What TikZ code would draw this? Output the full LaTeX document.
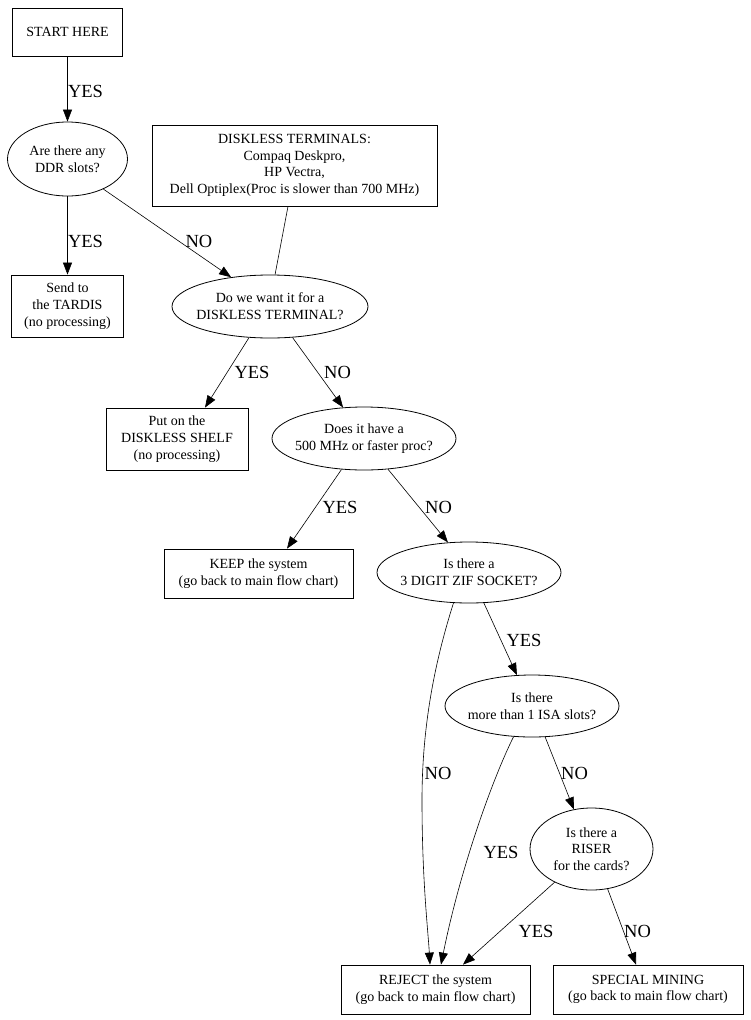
\documentclass[tikz,border=0pt]{standalone}
\usepackage{fontspec}
\setmainfont{Liberation Serif}
\usetikzlibrary{arrows.meta,shapes.geometric}
\newcommand{\mynodefont}{\fontsize{14}{16.7}\selectfont}
\newcommand{\mylabfont}{\fontsize{18.5}{20}\selectfont}
\begin{document}
\begin{tikzpicture}[x=1pt,y=-1pt,
  box/.style={draw,line width=0.8pt,rectangle,inner sep=0pt,align=center,font=\mynodefont},
  oval/.style={draw,line width=0.8pt,ellipse,inner sep=0pt},
  ovtext/.style={align=center,font=\mynodefont,inner sep=0pt},
  edge/.style={line width=0.6pt,-{Triangle[length=12pt,width=9pt]}},
  plain/.style={line width=0.6pt},
  lab/.style={font=\mylabfont,inner sep=0pt},
]
\fill[white] (0,0) rectangle (750,1020);
\useasboundingbox (0,0) rectangle (750,1020);

% nodes
\node[box, minimum width=110pt, minimum height=48pt] (start) at (67.5,32) {START HERE};
\node[oval, minimum width=120pt, minimum height=74pt,
  label={[ovtext]center:Are there any\\DDR slots?}] (ddr) at (67.5,159) {};
\node[box, minimum width=112pt, minimum height=62pt] (tardis) at (67.5,306) {Send to\\the TARDIS\\(no processing)};
\node[box, minimum width=285pt, minimum height=81pt] (dt) at (294.5,165.5) {DISKLESS TERMINALS:\\Compaq Deskpro,\\HP Vectra,\\Dell Optiplex(Proc is slower than 700 MHz)};
\node[oval, minimum width=196pt, minimum height=63pt,
  label={[ovtext]center:Do we want it for a\\DISKLESS TERMINAL?}] (dw) at (270,306.5) {};
\node[box, minimum width=142pt, minimum height=62pt] (shelf) at (177,439) {Put on the\\DISKLESS SHELF\\(no processing)};
\node[oval, minimum width=184pt, minimum height=63pt,
  label={[ovtext]center:Does it have a\\500 MHz or faster proc?}] (fh) at (364,438.5) {};
\node[box, minimum width=189pt, minimum height=49pt] (keep) at (258.5,573.5) {KEEP the system\\(go back to main flow chart)};
\node[oval, minimum width=184pt, minimum height=61pt,
  label={[ovtext]center:Is there a\\3 DIGIT ZIF SOCKET?}] (zif) at (469,572.5) {};
\node[oval, minimum width=174pt, minimum height=62pt,
  label={[ovtext]center:Is there\\more than 1 ISA slots?}] (isa) at (532,706) {};
\node[oval, minimum width=123pt, minimum height=82pt,
  label={[ovtext]center:Is there a\\RISER\\for the cards?}] (riser) at (591.5,849) {};
\node[box, minimum width=189pt, minimum height=49pt] (reject) at (435.5,989.5) {REJECT the system\\(go back to main flow chart)};
\node[box, minimum width=190pt, minimum height=49pt] (special) at (648,989.5) {SPECIAL MINING\\(go back to main flow chart)};

% edges
\draw[edge] (start.south) -- (ddr.north);
\draw[edge] (ddr.south) -- (tardis.north);
\draw[edge] (ddr.-40) -- (dw.143.6);
\draw[plain] ([xshift=-6.5pt]dt.south) -- (dw.81);
\draw[edge] (dw.-124.5) -- ([xshift=28pt]shelf.north);
\draw[edge] (dw.-54.3) -- (fh.124);
\draw[edge] (fh.-126.6) -- ([xshift=28.5pt]keep.north);
\draw[edge] (fh.-52.3) -- (zif.125.4);
\draw[edge] (zif.-64) -- (isa.116);
\draw[edge] (zif.-117) .. controls (437,655) and (422,720) .. (422,800)
  .. controls (422,880) and (428,930) .. ([xshift=-5.5pt]reject.north);
\draw[edge] (isa.-121.5) .. controls (492,780) and (460,870) .. ([xshift=5.5pt]reject.north);
\draw[edge] (isa.-67) -- (riser.114.9);
\draw[edge] (riser.-138) -- ([xshift=27.5pt]reject.north);
\draw[edge] (riser.-68) -- ([xshift=-12pt]special.north);

% labels
\node[lab] (l1) at (85.5,91) {YES};
\node[lab] (l2) at (85.5,241) {YES};
\node[lab] (l3) at (199,241) {NO};
\node[lab] (l4) at (252,372.5) {YES};
\node[lab] (l5) at (337.5,372.5) {NO};
\node[lab] (l6) at (340,507.5) {YES};
\node[lab] (l7) at (438.5,507.5) {NO};
\node[lab] (l8) at (524,640) {YES};
\node[lab] (l9) at (438,773) {NO};
\node[lab] (l10) at (574.5,773) {NO};
\node[lab] (l11) at (501,852) {YES};
\node[lab] (l12) at (536,931) {YES};
\node[lab] (l13) at (637.5,931) {NO};
\end{tikzpicture}
\end{document}
